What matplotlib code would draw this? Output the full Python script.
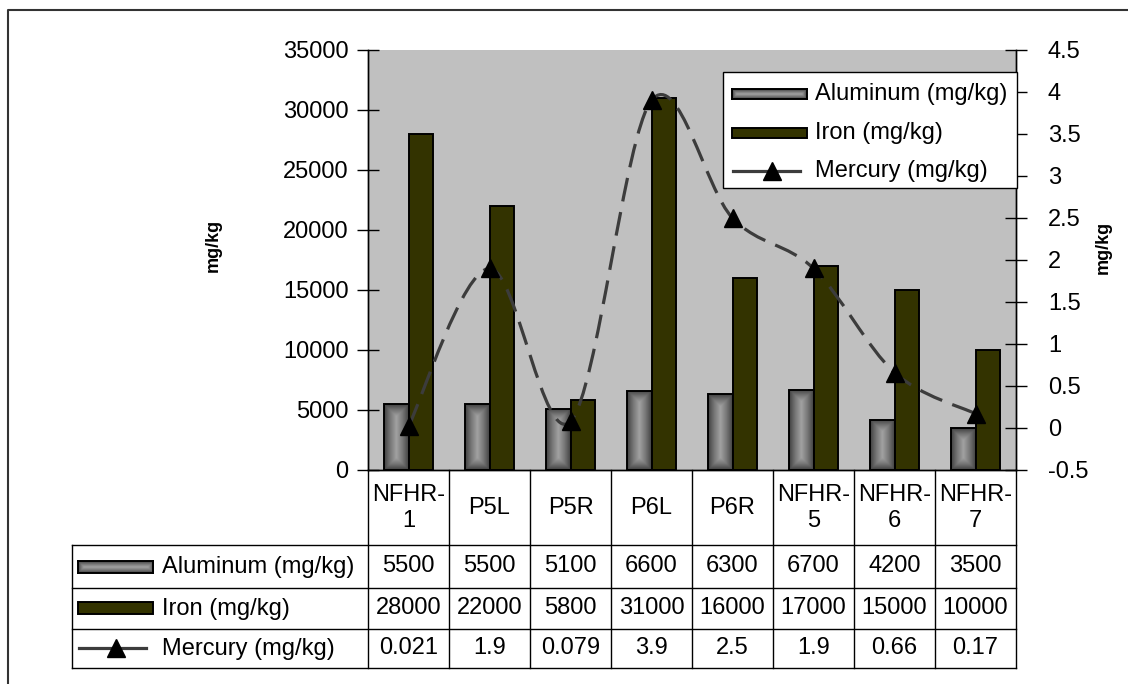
import matplotlib
matplotlib.use("Agg")
import matplotlib.pyplot as plt
import numpy as np
from matplotlib.colors import LinearSegmentedColormap
from matplotlib.lines import Line2D
from matplotlib.patches import Rectangle, PathPatch
from matplotlib.path import Path
from matplotlib import transforms
from matplotlib.ticker import FuncFormatter, MultipleLocator

plt.rcParams['font.family'] = ['Liberation Sans', 'DejaVu Sans']
plt.rcParams['axes.unicode_minus'] = False

# sample sites and measured concentrations
sites = ['NFHR-\n1', 'P5L', 'P5R', 'P6L', 'P6R', 'NFHR-\n5', 'NFHR-\n6', 'NFHR-\n7']
aluminum = [5500, 5500, 5100, 6600, 6300, 6700, 4200, 3500]
iron = [28000, 22000, 5800, 31000, 16000, 17000, 15000, 10000]
mercury = [0.021, 1.9, 0.079, 3.9, 2.5, 1.9, 0.66, 0.17]
series_names = ['Aluminum (mg/kg)', 'Iron (mg/kg)', 'Mercury (mg/kg)']

W, H = 1128, 684
BG = '#c0c0c0'
IRON_C = '#333300'
HG_C = '#3c3c3c'
FS = 17

grad_cmap = LinearSegmentedColormap.from_list('alu', ['#a2a2a2', '#767676', '#404040'])


def fx(x):
    return x / W


def fy(y):
    return 1 - y / H


def center_gradient(w_px, h_px, scale=4):
    # shade by distance to the nearest edge, lightest along the centre line
    nx = max(int(w_px * scale), 2)
    ny = max(int(h_px * scale), 2)
    dx = w_px / 2 - np.abs(np.linspace(-w_px / 2, w_px / 2, nx))[None, :]
    dy = h_px / 2 - np.abs(np.linspace(-h_px / 2, h_px / 2, ny))[:, None]
    half = min(w_px, h_px) / 2
    return 1 - np.clip(np.minimum(dx, dy) / half, 0, 1)


fig = plt.figure(figsize=(W / 100, H / 100), dpi=100)
ax = fig.add_axes([fx(368), fy(470), (1016 - 368) / W, (470 - 50) / H])
ax.set_facecolor(BG)
ax2 = ax.twinx()

x = np.arange(len(sites))
bw = 0.305
alu_bars = ax.bar(x - bw / 2, aluminum, bw, facecolor='none', edgecolor='black',
                  linewidth=1.4, zorder=3)
ax.bar(x + bw / 2, iron, bw, color=IRON_C, edgecolor='black', linewidth=1.4, zorder=3)

ax.set_xlim(-0.5, len(sites) - 0.5)
ax.set_ylim(0, 35000)

# shaded fill for the aluminum bars
px_per_x = (1016 - 368) / len(sites)
px_per_y = (470 - 50) / 35000
for rect in alu_bars:
    x0, w, h = rect.get_x(), rect.get_width(), rect.get_height()
    im = ax.imshow(center_gradient(w * px_per_x, h * px_per_y), cmap=grad_cmap,
                   vmin=0, vmax=1, extent=[x0, x0 + w, 0, h], aspect='auto',
                   zorder=2, interpolation='bilinear')
    im.set_clip_path(rect)

ax.set_xlim(-0.5, len(sites) - 0.5)
ax.set_ylim(0, 35000)
ax.yaxis.set_major_locator(MultipleLocator(5000))
ax.yaxis.set_major_formatter(FuncFormatter(lambda v, p: f'{v:.0f}'))
ax.set_xticks([])
ax2.set_ylim(-0.5, 4.5)
ax2.yaxis.set_major_locator(MultipleLocator(0.5))
ax2.yaxis.set_major_formatter(FuncFormatter(lambda v, p: f'{v:g}'))

ax.tick_params(axis='y', direction='inout', length=16, width=1, labelsize=FS, pad=6)
ax2.tick_params(axis='y', direction='inout', length=16, width=1, labelsize=FS, pad=15)
for a in (ax, ax2):
    a.spines['top'].set_visible(False)
    for s in ('left', 'right', 'bottom'):
        a.spines[s].set_linewidth(1)

# smoothed mercury line (cubic Bezier through each point)
pts = np.column_stack([x, mercury]).astype(float)
ext = np.vstack([pts[0], pts, pts[-1]])
verts = [tuple(pts[0])]
codes = [Path.MOVETO]
for i in range(len(pts) - 1):
    p0, p1, p2, p3 = ext[i], ext[i + 1], ext[i + 2], ext[i + 3]
    c1 = p1 + (p2 - p0) / 6
    c2 = p2 - (p3 - p1) / 6
    verts += [tuple(c1), tuple(c2), tuple(p2)]
    codes += [Path.CURVE4] * 3
ax2.add_patch(PathPatch(Path(verts, codes), fill=False, edgecolor=HG_C, linewidth=2.3,
                        linestyle=(0, (7.5, 3.4)), capstyle='butt', zorder=4))
ax2.plot(x, mercury, linestyle='none', marker='^', markersize=13, color='black', zorder=5)

# axis titles
fig.text(fx(213), fy(245), 'mg/kg', rotation=90, fontsize=13, fontweight='bold',
         ha='center', va='center')
fig.text(fx(1103), fy(247), 'mg/kg', rotation=90, fontsize=13, fontweight='bold',
         ha='center', va='center')


def fig_line(xs, ys, **kw):
    kw.setdefault('color', 'black')
    kw.setdefault('linewidth', 1)
    fig.add_artist(Line2D([fx(v) for v in xs], [fy(v) for v in ys], **kw))


def gradient_key(x0, y0, x1, y1):
    kax = fig.add_axes([fx(x0), fy(y1), (x1 - x0) / W, (y1 - y0) / H])
    kax.set_zorder(6)
    kax.imshow(center_gradient(x1 - x0, y1 - y0), cmap=grad_cmap, vmin=0, vmax=1,
               aspect='auto', interpolation='bilinear')
    kax.set_xticks([])
    kax.set_yticks([])
    for s in kax.spines.values():
        s.set_linewidth(1.4)
    return kax


def solid_key(x0, y0, x1, y1, color):
    fig.add_artist(Rectangle((fx(x0), fy(y1)), (x1 - x0) / W, (y1 - y0) / H,
                             transform=fig.transFigure, facecolor=color,
                             edgecolor='black', linewidth=1.4, zorder=5))


def line_key(x0, x1, y, xm):
    fig_line([x0, x1], [y, y], color=HG_C, linewidth=2.3, zorder=5)
    fig.add_artist(Line2D([fx(xm)], [fy(y)], marker='^', markersize=13, color='black',
                          linestyle='none', zorder=6))


# data table under the plot
col_tr = transforms.blended_transform_factory(ax.transData, fig.transFigure)
row_y = [545, 588, 629, 668]
bounds = [ax.transData.transform((b, 0))[0] for b in np.arange(len(sites) + 1) - 0.5]
for bx in bounds:
    fig_line([bx, bx], [470, 668])
for ry in row_y:
    fig_line([72, bounds[-1]], [ry, ry])
fig_line([72, 72], [545, 668])

for i, name in enumerate(sites):
    fig.text(i, fy(508), name, transform=col_tr, ha='center', va='center',
             fontsize=FS, linespacing=1.22)

row_vals = [aluminum, iron, mercury]
for r, vals in enumerate(row_vals):
    yc = (row_y[r] + row_y[r + 1]) / 2
    for i, v in enumerate(vals):
        fig.text(i, fy(yc), f'{v:g}', transform=col_tr, ha='center', va='center',
                 fontsize=FS)
    fig.text(fx(162), fy(yc), series_names[r], ha='left', va='center', fontsize=FS)

gradient_key(78, 561, 153, 573)
solid_key(78, 602, 153, 614, IRON_C)
line_key(79, 146, 648, 116)

# legend box
fig.add_artist(Rectangle((fx(723), fy(188)), (1017 - 723) / W, (188 - 72) / H,
                         transform=fig.transFigure, facecolor='white',
                         edgecolor='black', linewidth=1, zorder=4))
leg_y = [94, 133, 171]
gradient_key(732, leg_y[0] - 5, 807, leg_y[0] + 5)
solid_key(732, leg_y[1] - 5, 807, leg_y[1] + 5, IRON_C)
line_key(733, 800, leg_y[2], 772)
for ly, name in zip(leg_y, series_names):
    t = fig.text(fx(815), fy(ly), name, ha='left', va='center', fontsize=FS)
    t.set_zorder(6)

# outer chart frame
fig_line([8, 8, W], [H, 10, 10], color='#333333', linewidth=1.5)

fig.savefig('out.png', dpi=100, facecolor='white')
